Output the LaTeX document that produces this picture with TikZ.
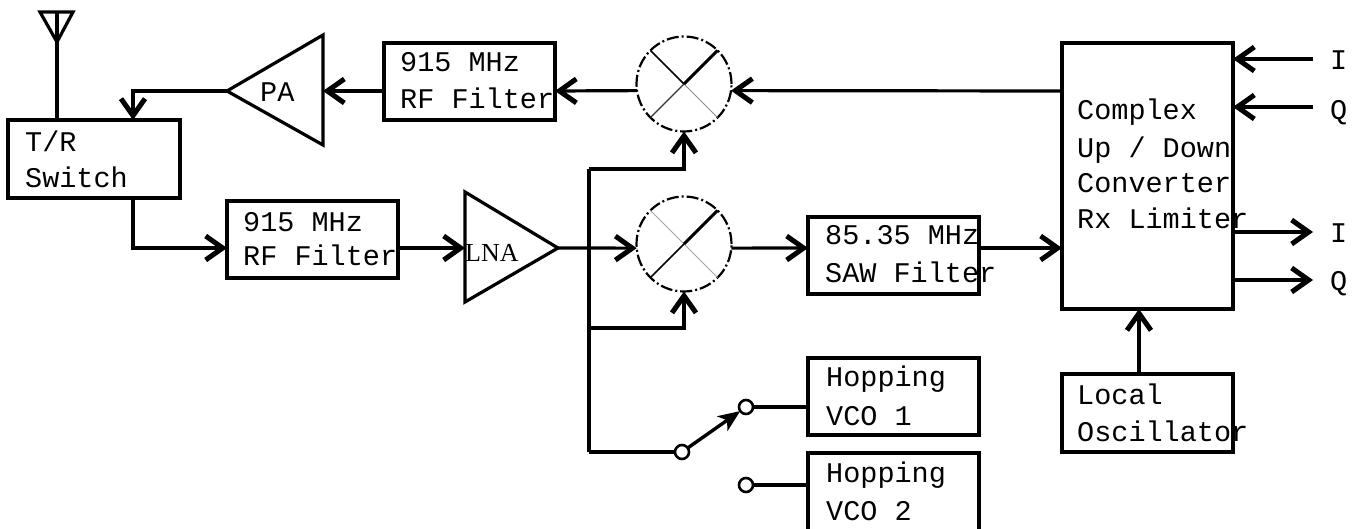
\documentclass[tikz,border=0pt]{standalone}
\usepackage{fontspec}
\newfontfamily\courfont{Liberation Mono}
\newfontfamily\timfont{Liberation Serif}
\usetikzlibrary{arrows.meta,calc}
\begin{document}
\begin{tikzpicture}[x=1pt,y=-1pt,
  ln/.style={line width=3.2pt},
  box/.style={draw,line width=3.2pt,minimum width=171pt,minimum height=77pt,anchor=north west,inner sep=0pt,outer sep=0pt},
  txt/.style={anchor=base west,inner sep=0pt,font=\courfont\fontsize{28.5}{34}\selectfont},
  arr/.style={line width=3.2pt,-{Straight Barb[length=17pt,width=24pt,line width=5pt]}},
  mixer/.style={circle,draw,line width=2.2pt,dash pattern=on 12pt off 3pt on 2pt off 3pt,minimum size=95pt,inner sep=0pt,outer sep=0pt},
  port/.style={circle,draw,line width=2.6pt,minimum size=14pt,inner sep=0pt,outer sep=0pt,fill=white}
]
\useasboundingbox (0,0) rectangle (1353,529);

% helper coordinates
\coordinate (yTop) at (0,91);
\coordinate (yMid) at (0,248);
\coordinate (trX) at (133,0);
\coordinate (loX) at (1139,0);
\coordinate (antTop) at (57,12);

% boxes
\node[box,minimum width=172pt,minimum height=78pt] (tr) at (8,120) {};
\node[box] (f1) at (384,43) {};
\node[box] (f2) at (227,201) {};
\node[box] (saw) at (808,217) {};
\node[box,minimum height=266pt] (cplx) at (1062,43) {};
\node[box,minimum height=78pt] (lo) at (1062,374) {};
\node[box] (vco1) at (808,358) {};
\begin{scope}
\clip (0,0) rectangle (1353,529);
\node[box,minimum height=100pt] (vco2) at (808,453) {};
\end{scope}

% texts
\node[txt] (trT1) at (25,152) {T/R};
\node[txt] (trT2) at (25,188) {Switch};
\node[txt] (f1T1) at (400,72) {915 MHz};
\node[txt] (f1T2) at (400,109) {RF Filter};
\node[txt] (f2T1) at (243,232) {915 MHz};
\node[txt] (f2T2) at (243,266) {RF Filter};
\node[txt] (sawT1) at (825,245) {85.35 MHz};
\node[txt] (sawT2) at (825,283) {SAW Filter};
\node[txt] (cxT1) at (1077,120) {Complex};
\node[txt] (cxT2) at (1077,158) {Up / Down};
\node[txt] (cxT3) at (1077,193) {Converter};
\node[txt] (cxT4) at (1077,229) {Rx Limiter};
\node[txt] (loT1) at (1077,405) {Local};
\node[txt] (loT2) at (1077,442) {Oscillator};
\node[txt] (v1T1) at (826,387) {Hopping};
\node[txt] (v1T2) at (826,425) {VCO 1};
\node[txt] (v2T1) at (826,482) {Hopping};
\node[txt] (v2T2) at (826,520) {VCO 2};
\node[txt] (paT) at (260,102) {PA};
\node[anchor=base west,inner sep=0pt,font=\timfont\fontsize{26}{28}\selectfont] (lnaT) at (465,262) {LNA};
\node[txt] (lbI1) at (1330,70) {I};
\node[txt] (lbQ1) at (1330,120) {Q};
\node[txt] (lbI2) at (1330,243) {I};
\node[txt] (lbQ2) at (1330,291) {Q};

% antenna
\draw[ln,line join=miter] (40,12) -- (73,12) -- (57,42) -- cycle;
\draw[ln] (antTop) -- (tr.north -| antTop);

% amplifiers
\draw[ln,line join=miter] (323,35) -- (323,145) -- (227,91) -- cycle;
\coordinate (paR) at (323,91);
\coordinate (paL) at (227,91);
\draw[ln,line join=miter] (465,192) -- (465,302) -- (558,248) -- cycle;
\coordinate (lnaL) at (465,248);
\coordinate (lnaR) at (558,248);

% mixers
\node[mixer] (mx1) at (684,84) {};
\draw[line width=1.5pt] (mx1.135) -- (mx1.center);
\draw[line width=1pt,black!45] (mx1.center) -- (mx1.-45);
\draw[line width=1.2pt,black!80] (mx1.-135) -- (mx1.center);
\draw[line width=3pt] (mx1.center) -- (mx1.45);
\node[mixer] (mx2) at (684,244) {};
\draw[line width=1pt,black!35] (mx2.135) -- (mx2.-45);
\draw[line width=1.5pt] (mx2.-135) -- (mx2.center);
\draw[line width=3pt] (mx2.center) -- (mx2.45);

% switch ports
\node[port] (sw0) at (682,452) {};
\node[port] (sw1) at (746,407) {};
\node[port] (sw2) at (746,485) {};

% transmit chain
\draw[arr] (cplx.west |- yTop) -- (mx1.-8);
\draw[arr] (mx1.188) -- (f1.east |- yTop);
\draw[arr] (f1.west |- yTop) -- (paR);
\draw[arr] (paL) -| (tr.north -| trX);

% receive chain
\draw[arr] (tr.south -| trX) |- (f2.west |- yMid);
\draw[arr] (f2.east |- yMid) -- (lnaL);
\draw[arr] (lnaR) -- (mx2.185);
\draw[arr] (mx2.-5) -- (saw.west |- yMid);
\draw[arr] (saw.east |- yMid) -- (cplx.west |- yMid);

% LO bus
\coordinate (busTop) at (589,169);
\coordinate (busMid) at (589,328);
\coordinate (busBot) at (589,452);
\draw[ln] (busTop) -- (busBot);
\draw[arr] (busTop) -| (mx1.south);
\draw[arr] (busMid) -| (mx2.south);
\draw[ln] (busBot) -- (sw0.west);
\draw[line width=3.4pt,-{Stealth[length=22pt,width=18pt,inset=6pt]}] (sw0) -- (sw1);
\draw[ln] (sw1) -- (vco1.west |- sw1);
\draw[ln] (sw2) -- (vco2.west |- sw2);

% local oscillator
\draw[arr] (lo.north -| loX) -- (cplx.south -| loX);

% I/Q ports
\coordinate (inI) at (1313,59);
\coordinate (inQ) at (1313,107);
\coordinate (outI) at (1313,232);
\coordinate (outQ) at (1313,280);
\draw[arr] (inI) -- (cplx.east |- inI);
\draw[arr] (inQ) -- (cplx.east |- inQ);
\draw[arr] (cplx.east |- outI) -- (outI);
\draw[arr] (cplx.east |- outQ) -- (outQ);
\end{tikzpicture}
\end{document}
